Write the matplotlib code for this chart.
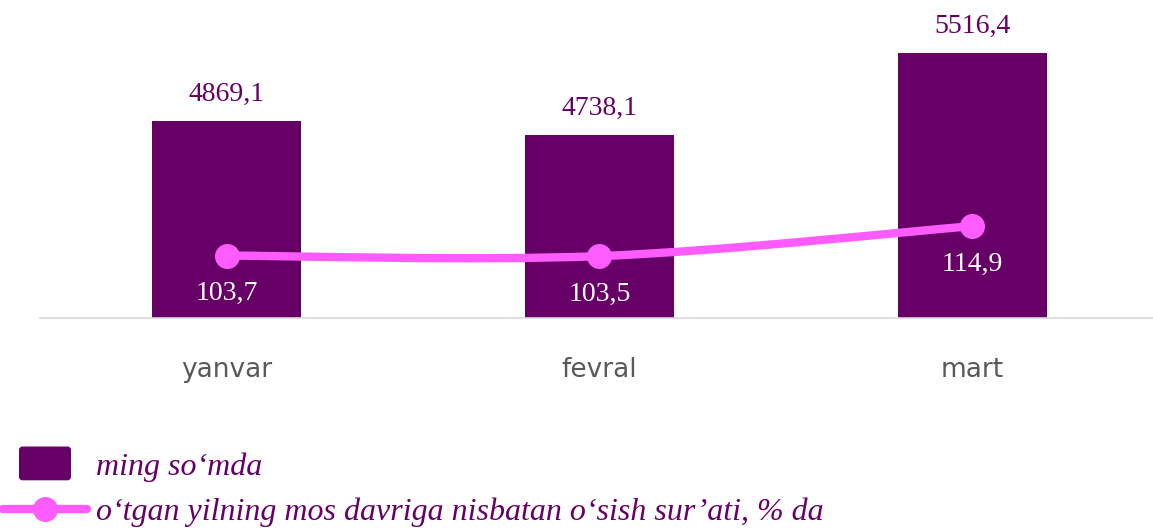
import numpy as np
import matplotlib
matplotlib.use('Agg')
import matplotlib.pyplot as plt
from matplotlib.path import Path
from matplotlib.patches import PathPatch, FancyBboxPatch, Patch
from matplotlib.lines import Line2D
from matplotlib.legend_handler import HandlerPatch

# data
months = ['yanvar', 'fevral', 'mart']
summa = [4869.1, 4738.1, 5516.4]           # ming so'mda
osish = [103.7, 103.5, 114.9]              # % da
summa_lbl = ['4869,1', '4738,1', '5516,4']
osish_lbl = ['103,7', '103,5', '114,9']

bar_col = '#660066'
line_col = '#ff5cff'

fig = plt.figure(figsize=(11.53, 5.30), dpi=100)
ax = fig.add_axes([0.035, 0.4, 0.965, 0.596])
x = np.arange(len(months))

ax.bar(x, summa, width=0.4, color=bar_col, zorder=2)
ax.set_ylim(3000, 6000)
ax.set_xlim(-0.5, 2.485)
ax.set_yticks([])
for s in ['top', 'right', 'left']:
    ax.spines[s].set_visible(False)
ax.spines['bottom'].set_color('#d9d9d9')
ax.spines['bottom'].set_linewidth(1.2)
ax.set_xticks(x)
ax.set_xticklabels(months, fontsize=19, color='#595959', family='DejaVu Sans')
ax.tick_params(axis='x', length=0, pad=28)

for xi, v, t in zip(x, summa, summa_lbl):
    ax.annotate(t, (xi, v), xytext=(0, 19), textcoords='offset points',
                ha='center', va='center', fontsize=20, color=bar_col,
                family='Liberation Serif')

# growth line on second axis
ax2 = ax.twinx()
ax2.set_ylim(80, 200)
ax2.set_yticks([])
for s in ax2.spines.values():
    s.set_visible(False)

# smooth curve (catmull-rom -> bezier) through the points
pts = np.column_stack([x, osish]).astype(float)
ext = np.vstack([pts[0], pts, pts[-1]])
verts = [tuple(pts[0])]
codes = [Path.MOVETO]
for i in range(len(pts) - 1):
    p0, p1, p2, p3 = ext[i], ext[i + 1], ext[i + 2], ext[i + 3]
    c1 = p1 + (p2 - p0) / 6
    c2 = p2 - (p3 - p1) / 6
    verts += [tuple(c1), tuple(c2), tuple(p2)]
    codes += [Path.CURVE4] * 3
ax2.add_patch(PathPatch(Path(verts, codes), fill=False, edgecolor=line_col,
                        linewidth=6, capstyle='round', zorder=3))
ax2.plot(x, osish, 'o', color=line_col, markersize=17, zorder=4)

for xi, v, t in zip(x, osish, osish_lbl):
    ax2.annotate(t, (xi, v), xytext=(0, -27.5), textcoords='offset points',
                 ha='center', va='center', fontsize=20, color='white',
                 family='Liberation Serif', zorder=5)


# legend
def make_square(legend, orig_handle, xdescent, ydescent, width, height, fontsize):
    s = height * 1.45
    return FancyBboxPatch((width / 2 - s * 0.78 - xdescent, height / 2 - s / 2 - ydescent),
                          s * 1.56, s, boxstyle='round,pad=0,rounding_size=2')


h1 = Patch(color=bar_col)
h2 = Line2D([], [], color=line_col, linewidth=6, marker='o', markersize=17,
            solid_capstyle='round')
fig.legend([h1, h2], ['ming so‘mda', 'o‘tgan yilning mos davriga nisbatan o‘sish sur’ati, % da'],
           loc='upper left', bbox_to_anchor=(0.003, 0.147), frameon=False,
           prop={'family': 'Liberation Serif', 'style': 'italic', 'size': 23},
           labelcolor=bar_col, handlelength=2.6, handletextpad=0.3,
           labelspacing=0.5, borderaxespad=0, borderpad=0,
           handler_map={h1: HandlerPatch(patch_func=make_square)})

fig.savefig('out.png', dpi=100)
